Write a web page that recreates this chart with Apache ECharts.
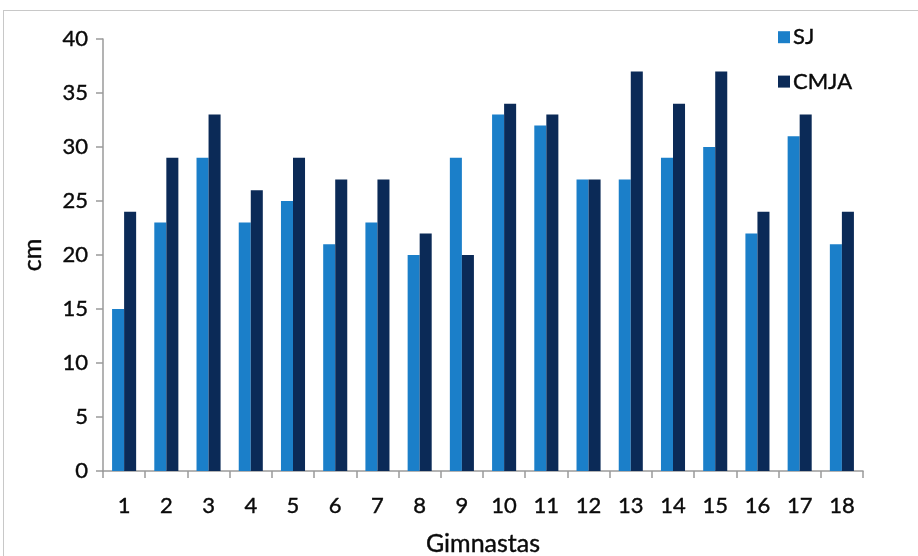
<!DOCTYPE html>
<html>
<head>
<meta charset="utf-8">
<script src="https://cdn.jsdelivr.net/npm/echarts@6/dist/echarts.min.js"></script>
<style>
html,body{margin:0;padding:0;background:#fff;}
#frame{position:absolute;left:3px;top:10px;width:940px;height:600px;border:1px solid #c8c8c8;box-sizing:border-box;}
#chart{position:absolute;left:0;top:0;width:918px;height:556px;}
</style>
</head>
<body>
<div id="frame"></div>
<div id="chart"></div>
<script>
const categories = ['1','2','3','4','5','6','7','8','9','10','11','12','13','14','15','16','17','18'];
const sjValues = [15,23,29,23,25,21,23,20,29,33,32,27,27,29,30,22,31,21];
const cmjaValues = [24,29,33,26,29,27,27,22,20,34,33,27,37,34,37,24,33,24];
const yTicks = {min:0, max:40, interval:5};

const FONT = 'Lato, "Open Sans", sans-serif';
const TXT = {fontFamily: FONT, color:'#0a0a0a', textBorderColor:'#0a0a0a', textBorderWidth:0.4};
const chart = echarts.init(document.getElementById('chart'), null, {renderer:'canvas'});
chart.setOption({
  backgroundColor: 'transparent',
  animation: false,
  grid: {left:103, right:55, top:39, bottom:85, containLabel:false, outerBoundsMode:'none'},
  legend: {
    orient: 'vertical',
    left: 773, top: 21,
    itemWidth: 12, itemHeight: 12, itemGap: 22, icon: 'rect',
    textStyle: Object.assign({fontSize: 22, padding:[0,0,0,-2]}, TXT),
    data: ['SJ','CMJA']
  },
  xAxis: {
    type: 'category',
    data: categories,
    name: 'Gimnastas',
    nameLocation: 'middle',
    nameGap: 60,
    nameTextStyle: Object.assign({fontSize: 25}, TXT),
    axisLine: {show:true, lineStyle:{color:'#9a9a9a', width:1.5}},
    axisTick: {show:true, alignWithLabel:false, length:7, lineStyle:{color:'#9a9a9a', width:1.5}},
    axisLabel: Object.assign({fontSize: 22, margin:24}, TXT),
    splitLine: {show:false}
  },
  yAxis: {
    type: 'value',
    min: yTicks.min, max: yTicks.max, interval: yTicks.interval,
    name: 'cm',
    nameLocation: 'middle',
    nameGap: 58,
    nameRotate: 90,
    nameTextStyle: Object.assign({fontSize: 25}, TXT),
    axisLine: {show:true, lineStyle:{color:'#9a9a9a', width:1.5}},
    axisTick: {show:true, length:7, lineStyle:{color:'#9a9a9a', width:1.5}},
    axisLabel: Object.assign({fontSize: 22, margin:15}, TXT),
    splitLine: {show:false}
  },
  series: [
    {name:'SJ', type:'bar', data: sjValues, barGap:'0%', barCategoryGap:'43%',
     itemStyle:{color:'#1b7fc9'}},
    {name:'CMJA', type:'bar', data: cmjaValues, barGap:'0%', barCategoryGap:'43%',
     itemStyle:{color:'#0b2a57'}}
  ]
});
</script>
</body>
</html>
